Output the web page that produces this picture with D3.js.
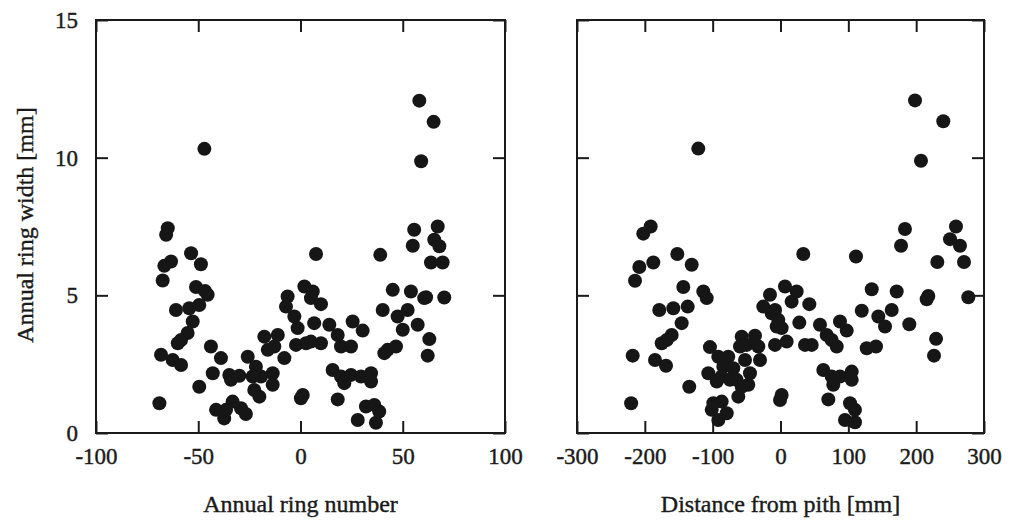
<!DOCTYPE html>
<html>
<head>
<meta charset="utf-8">
<script src="https://cdn.jsdelivr.net/npm/d3@7"></script>
<style>
  body { margin: 0; background: #fff; }
  svg { display: block; }
  .tick text { font-family: "Liberation Serif", "Times New Roman", serif; font-size: 23px; fill: #1a1a1a; stroke: #1a1a1a; stroke-width: 0.4; }
  .tick line { stroke: #1a1a1a; stroke-width: 2; }
  .axisTitle { font-family: "Liberation Serif", "Times New Roman", serif; font-size: 24px; fill: #1a1a1a; stroke: #1a1a1a; stroke-width: 0.4; }
  .frame { fill: none; stroke: #1a1a1a; stroke-width: 2; }
  .dot { fill: #161616; }
</style>
</head>
<body>
<svg id="chart" width="1017" height="521"></svg>
<script>
// ring width [mm] vs annual ring number
const ringNumberPts = [
  [-47.0,10.32],[58.1,12.07],[65.1,11.3],[59.0,9.87],
  [-64.9,7.44],[-65.7,7.2],[-53.5,6.53],[-48.7,6.13],[-63.3,6.23],[-66.6,6.07],[-67.4,5.54],
  [-51.1,5.3],[-46.7,5.16],[-45.4,5.02],[-60.9,4.47],[-54.4,4.53],[-49.5,4.65],[-52.7,4.05],
  [-55.2,3.63],[-58.4,3.38],[-60.0,3.26],[-68.2,2.84],[-62.5,2.65],[-58.4,2.47],[-43.8,3.14],
  [-38.9,2.72],[-42.9,2.17],[-34.8,2.11],[-29.9,2.08],[-34.0,1.93],[-49.5,1.68],[-69.0,1.08],
  [-41.3,0.84],[-37.3,0.53],[-33.2,1.14],[-29.1,0.9],[-26.7,0.69],[-36.4,0.84],
  [-25.8,2.77],[-17.7,3.5],[-11.1,3.56],[-21.8,2.41],[-19.3,2.05],[-20.1,1.32],[-13.6,2.17],
  [-13.6,1.75],[-7.9,2.72],[-16.0,3.02],[-12.8,3.14],[-23.4,2.05],[-22.6,1.56],
  [-6.3,4.96],[-7.1,4.59],[-3.0,4.23],[-1.4,3.81],[1.9,5.32],[-2.2,3.2],[2.7,3.26],
  [0.2,1.26],[1.1,1.38],[7.6,6.5],[6.0,5.14],[5.1,4.9],[10.0,4.68],[6.7,3.99],
  [14.1,3.93],[18.2,3.56],[10.0,3.26],[5.1,3.32],[19.8,3.14],[24.7,3.14],[25.5,4.05],[30.4,3.72],
  [15.7,2.29],[19.8,2.05],[21.4,1.81],[24.7,2.11],[29.6,2.05],[34.5,2.17],[34.5,1.87],[18.2,1.22],
  [28.0,0.47],[32.0,0.96],[36.1,1.02],[38.5,0.78],[36.9,0.37],
  [40.2,4.47],[45.1,5.2],[47.5,4.23],[50.0,3.75],[52.4,4.47],[54.0,5.14],[57.3,3.93],[60.5,4.9],
  [61.4,4.93],[70.3,4.92],[42.6,3.02],[46.7,3.14],[41.0,2.9],[63.0,3.41],[62.2,2.81],
  [55.6,7.38],[67.1,7.5],[54.9,6.8],[65.4,7.02],[67.9,6.78],[63.8,6.19],[69.5,6.19],[39.0,6.47]
];

// ring width [mm] vs distance from pith [mm]
const distancePts = [
  [-121.2,10.33],[198.3,12.08],[240.0,11.32],[207.1,9.89],
  [-191.4,7.5],[-202.3,7.24],[-152.1,6.5],[-130.9,6.11],[-187.5,6.19],[-208.1,6.03],[-214.5,5.53],
  [-143.3,5.3],[-113.8,5.14],[-108.8,4.9],[-178.7,4.47],[-158.0,4.53],[-136.8,4.59],[-145.7,3.99],
  [-160.4,3.56],[-167.8,3.38],[-175.1,3.26],[-217.9,2.81],[-185.0,2.65],[-168.8,2.44],
  [-134.5,1.68],[-220.2,1.08],[-104.0,3.12],
  [-91.7,2.77],[-77.0,2.77],[-106.4,2.17],[-94.0,1.87],[-84.3,2.41],[-69.6,2.35],[-74.5,1.93],
  [-57.2,3.5],[-37.6,3.53],[-32.7,3.14],[-30.2,2.65],[-45.0,2.17],[-47.5,1.75],[-62.2,1.32],
  [-59.7,3.14],[-52.3,2.65],[-86.7,2.05],[-64.6,1.93],[-57.2,1.68],[-49.8,3.2],
  [-101.4,0.84],[-86.7,1.14],[-79.3,0.72],[-91.7,0.47],[-99.0,1.08],
  [-15.5,5.02],[-25.4,4.59],[-13.0,4.35],[-5.6,3.87],[-8.1,3.2],[-0.7,1.2],[1.7,1.38],
  [33.6,6.5],[111.3,6.41],[183.5,7.41],[177.7,6.8],[258.7,7.5],[249.9,7.04],[264.6,6.8],
  [231.2,6.21],[270.5,6.21],[276.9,4.93],[217.9,4.98],[215.5,4.86],[229.3,3.42],[226.3,2.81],
  [134.5,5.22],[171.3,5.14],[119.8,4.44],[144.2,4.23],[154.1,3.87],[163.9,4.47],[189.9,3.95],
  [127.1,3.08],[140.8,3.14],[6.6,5.32],[23.8,5.14],[16.4,4.77],[42.5,4.68],[27.7,4.01],
  [58.2,3.93],[68.1,3.56],[46.0,3.2],[36.1,3.2],[82.9,3.14],[75.5,3.38],[87.7,4.05],[97.6,3.72],
  [63.1,2.29],[75.5,2.05],[77.8,1.75],[87.7,2.05],[105.0,2.23],[105.0,1.93],[70.5,1.22],
  [102.5,1.08],[109.8,0.84],[95.1,0.47],[109.8,0.39],
  [-8.0,4.47],[-3.2,4.11],[1.7,3.81],[9.1,3.32]
];

const ringNumberTicks = [-100, -50, 0, 50, 100];
const distanceTicks = [-300, -200, -100, 0, 100, 200, 300];
const widthTicks = [0, 5, 10, 15];

const svg = d3.select("#chart");
const plotTop = 20, plotBottom = 433;
const y = d3.scaleLinear().domain([0, 15]).range([plotBottom, plotTop]);

const panels = [
  { left: 96, right: 505, domain: [-100, 100], ticks: ringNumberTicks, pts: ringNumberPts,
    title: "Annual ring number", yLabels: true },
  { left: 577, right: 984, domain: [-300, 300], ticks: distanceTicks, pts: distancePts,
    title: "Distance from pith [mm]", yLabels: false }
];

panels.forEach(p => {
  const x = d3.scaleLinear().domain(p.domain).range([p.left, p.right]);
  const g = svg.append("g");

  g.append("g")
    .attr("transform", `translate(0,${plotBottom})`)
    .call(d3.axisBottom(x).tickValues(p.ticks).tickSizeInner(-12).tickSizeOuter(0)
      .tickPadding(15).tickFormat(d => String(d)))
    .call(a => a.select(".domain").remove());

  g.append("g")
    .attr("transform", `translate(0,${plotTop})`)
    .call(d3.axisTop(x).tickValues(p.ticks).tickSizeInner(-12).tickSizeOuter(0).tickFormat(""))
    .call(a => a.select(".domain").remove());

  g.append("g")
    .attr("transform", `translate(${p.left},0)`)
    .call(d3.axisLeft(y).tickValues(widthTicks).tickSizeInner(-12).tickSizeOuter(0)
      .tickPadding(18).tickFormat(d => p.yLabels ? String(d) : ""))
    .call(a => a.select(".domain").remove());

  g.append("g")
    .attr("transform", `translate(${p.right},0)`)
    .call(d3.axisRight(y).tickValues(widthTicks).tickSizeInner(-12).tickSizeOuter(0).tickFormat(""))
    .call(a => a.select(".domain").remove());

  g.selectAll("text").attr("fill", null);
  g.selectAll(".tick line").attr("stroke", null);

  g.append("rect")
    .attr("class", "frame")
    .attr("x", p.left).attr("y", plotTop)
    .attr("width", p.right - p.left).attr("height", plotBottom - plotTop);

  g.selectAll(".dot")
    .data(p.pts)
    .enter().append("circle")
    .attr("class", "dot")
    .attr("cx", d => x(d[0]))
    .attr("cy", d => y(d[1]))
    .attr("r", 7);

  g.append("text")
    .attr("class", "axisTitle")
    .attr("x", (p.left + p.right) / 2)
    .attr("y", 512)
    .attr("text-anchor", "middle")
    .text(p.title);
});

svg.append("text")
  .attr("class", "axisTitle")
  .attr("transform", "translate(33,225) rotate(-90)")
  .attr("text-anchor", "middle")
  .text("Annual ring width [mm]");
</script>
</body>
</html>
